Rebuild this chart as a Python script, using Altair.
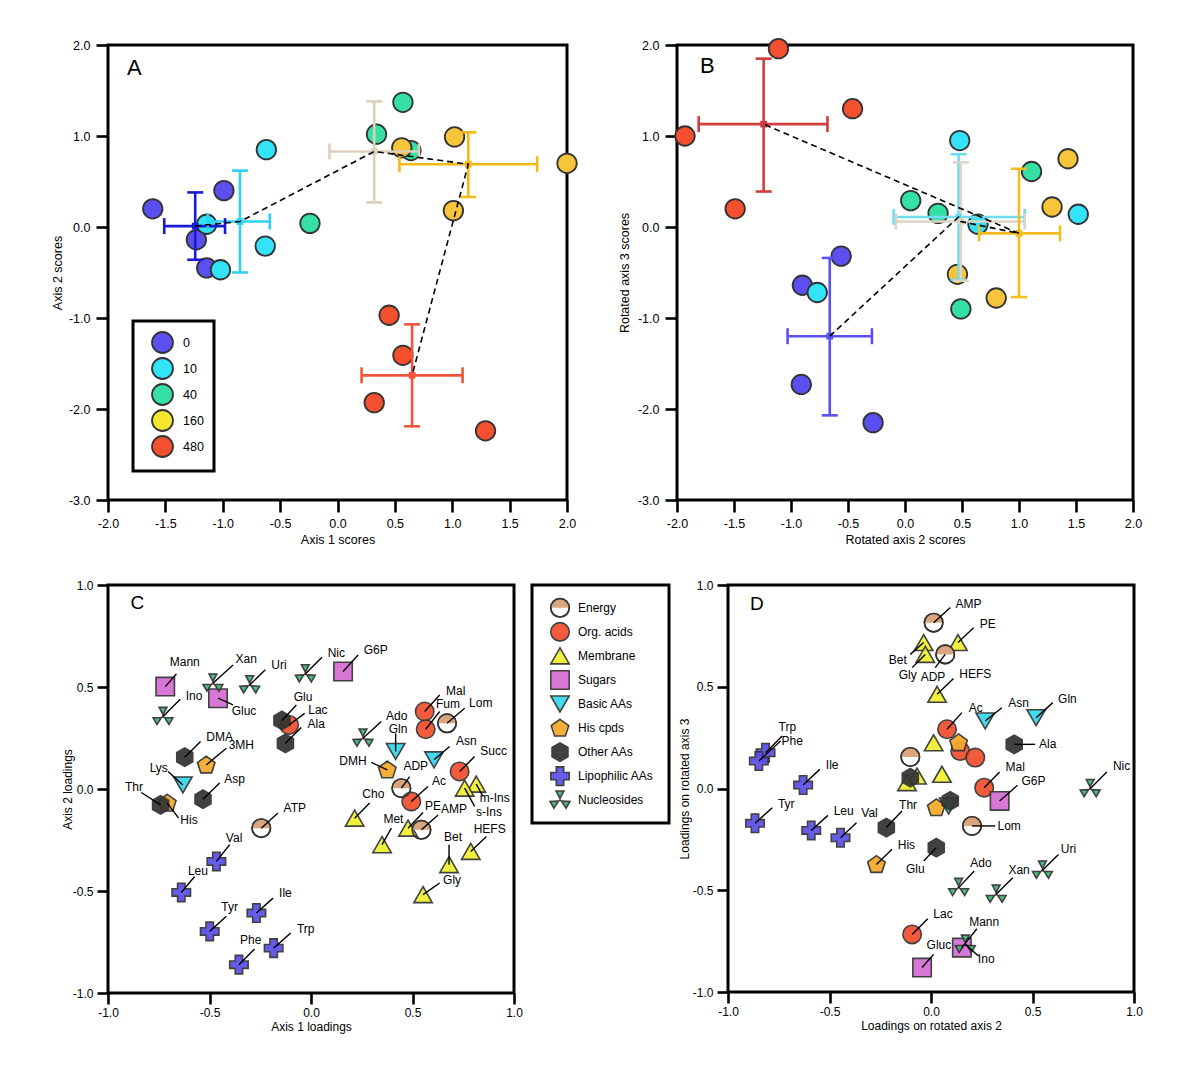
import altair as alt
import pandas as pd

FONT = "Liberation Sans"
INK = "#333333"
LBL = "datum.value < 0 ? '-' + format(-datum.value, '.1f') : format(datum.value, '.1f')"

# ---------------- Score plots (A, B) ----------------
groups = ["0", "10", "40", "160", "480"]
point_group = [g for g in groups for _ in range(4)]

a_score_x = [-1.61, -0.99, -1.23, -1.14, -0.62, -1.14, -0.63, -1.02, 0.57, 0.34, -0.24, 0.64,
             0.56, 1.02, 2.00, 1.01, 0.45, 0.57, 0.32, 1.29]
a_score_y = [0.20, 0.40, -0.14, -0.45, 0.85, 0.03, -0.21, -0.47, 1.37, 1.02, 0.04, 0.84,
             0.87, 0.99, 0.70, 0.18, -0.97, -1.41, -1.93, -2.24]
b_score_x = [-0.56, -0.90, -0.91, -0.28, -0.77, 0.48, 0.64, 1.52, 0.05, 0.29, 1.11, 0.49,
             1.43, 1.29, 0.46, 0.80, -1.11, -1.93, -0.46, -1.49]
b_score_y = [-0.32, -0.64, -1.73, -2.15, -0.72, 0.95, 0.03, 0.14, 0.29, 0.15, 0.61, -0.90,
             0.75, 0.22, -0.52, -0.78, 1.96, 1.00, 1.30, 0.20]

a_mean_x = [-1.24, -0.85, 0.32, 1.14, 0.65]
a_mean_y = [0.01, 0.06, 0.83, 0.69, -1.63]
a_x_lo = [-1.51, -1.13, -0.07, 0.54, 0.21]
a_x_hi = [-0.98, -0.59, 0.71, 1.74, 1.09]
a_y_lo = [-0.36, -0.50, 0.27, 0.33, -2.19]
a_y_hi = [0.38, 0.62, 1.38, 1.04, -1.07]

b_mean_x = [-0.66, 0.47, 0.49, 1.00, -1.24]
b_mean_y = [-1.20, 0.11, 0.06, -0.07, 1.13]
b_x_lo = [-1.03, -0.10, -0.08, 0.65, -1.81]
b_x_hi = [-0.29, 1.05, 1.05, 1.36, -0.68]
b_y_lo = [-2.07, -0.58, -0.59, -0.77, 0.39]
b_y_hi = [-0.34, 0.80, 0.71, 0.64, 1.85]

point_fill = ["#5b4ff0", "#33e3f7", "#35e0a4", "#f7c53a", "#f2502e"]
legend_fill = ["#5b4ff0", "#33e3f7", "#35e0a4", "#f5e62f", "#f2502e"]
a_bar_colors = ["#1a1ad0", "#2fd0f0", "#dcd0bc", "#f5b914", "#f2553a"]
b_bar_colors = ["#5a4ff0", "#6fdcf0", "#dcd4c4", "#f5bc1e", "#d23c3c"]

score_x_ticks = [-2, -1.5, -1, -0.5, 0, 0.5, 1, 1.5, 2]
score_y_ticks = [-3, -2, -1, 0, 1, 2]
load_ticks = [-1, -0.5, 0, 0.5, 1]

# ---------------- Loadings (C, D) ----------------
cats = ["Energy", "Org. acids", "Membrane", "Sugars", "Basic AAs", "His cpds",
        "Other AAs", "Lipophilic AAs", "Nucleosides"]
metabolites = ["ATP", "ADP", "AMP", "Lom", "Lac", "Mal", "Fum", "Succ", "Ac",
               "Cho", "Met", "PE", "m-Ins", "s-Ins", "Bet", "HEFS", "Gly",
               "Mann", "Gluc", "G6P", "Lys", "Gln", "Asn", "3MH", "His", "DMH",
               "Glu", "Ala", "DMA", "Asp", "Thr", "Val", "Leu", "Ile", "Tyr", "Trp", "Phe",
               "Xan", "Uri", "Nic", "Ino", "Ado"]
metabolite_class = (["Energy"] * 4 + ["Org. acids"] * 5 + ["Membrane"] * 8 + ["Sugars"] * 3 +
                    ["Basic AAs"] * 3 + ["His cpds"] * 3 + ["Other AAs"] * 5 +
                    ["Lipophilic AAs"] * 6 + ["Nucleosides"] * 5)

c_x = [-0.245, 0.445, 0.544, 0.670, -0.108, 0.560, 0.565, 0.732, 0.494, 0.215, 0.350, 0.478, 0.814,
       0.757, 0.680, 0.787, 0.552, -0.718, -0.458, 0.158, -0.631, 0.417, 0.606, -0.516, -0.708, 0.376,
       -0.143, -0.126, -0.622, -0.532, -0.741, -0.466, -0.639, -0.269, -0.499, -0.184, -0.355,
       -0.483, -0.302, -0.028, -0.729, 0.256]
c_y = [-0.192, 0.004, -0.200, 0.322, 0.314, 0.380, 0.293, 0.086, -0.061, -0.143, -0.273, -0.192, 0.024,
       0.004, -0.371, -0.306, -0.518, 0.502, 0.445, 0.576, 0.020, 0.184, 0.143, 0.118, -0.069, 0.094,
       0.336, 0.224, 0.156, -0.050, -0.078, -0.355, -0.507, -0.608, -0.698, -0.780, -0.861,
       0.518, 0.510, 0.564, 0.355, 0.249]
c_label_x = [-0.080, 0.516, 0.704, 0.836, 0.034, 0.713, 0.675, 0.900, 0.631, 0.307, 0.406, 0.601, 0.905,
             0.877, 0.700, 0.880, 0.695, -0.622, -0.330, 0.319, -0.750, 0.429, 0.765, -0.343, -0.601,
             0.207, -0.039, 0.026, -0.450, -0.376, -0.872, -0.379, -0.557, -0.126, -0.401, -0.026,
             -0.297, -0.319, -0.158, 0.125, -0.576, 0.422]
c_label_y = [-0.094, 0.113, -0.099, 0.424, 0.388, 0.482, 0.416, 0.184, 0.037, -0.025, -0.148, -0.082,
             -0.046, -0.113, -0.233, -0.197, -0.445, 0.624, 0.383, 0.682, 0.102, 0.295, 0.233, 0.216,
             -0.154, 0.138, 0.451, 0.319, 0.257, 0.048, 0.011, -0.242, -0.401, -0.510, -0.580, -0.685,
             -0.742, 0.636, 0.608, 0.669, 0.458, 0.360]
c_leader_x = [-0.163, 0.486, 0.626, 0.757, -0.031, 0.634, 0.634, 0.806, 0.576, 0.289, 0.396, 0.552,
              0.847, 0.806, 0.680, 0.864, 0.634, -0.663, -0.384, 0.232, -0.704, 0.417, 0.683, -0.417,
              -0.652, 0.297, -0.072, -0.048, -0.544, -0.450, -0.836, -0.401, -0.573, -0.187, -0.417,
              -0.100, -0.278, -0.384, -0.225, 0.054, -0.644, 0.346]
c_leader_y = [-0.118, 0.061, -0.127, 0.396, 0.371, 0.461, 0.380, 0.159, 0.012, -0.069, -0.192, -0.115,
              -0.036, -0.085, -0.273, -0.233, -0.461, 0.564, 0.412, 0.657, 0.086, 0.273, 0.208, 0.200,
              -0.143, 0.130, 0.412, 0.301, 0.233, 0.029, -0.017, -0.273, -0.429, -0.535, -0.624,
              -0.706, -0.784, 0.608, 0.584, 0.646, 0.440, 0.331]

d_x = [-0.102, 0.070, 0.013, 0.202, -0.093, 0.262, 0.144, 0.218, 0.079, 0.013, 0.054, 0.133, -0.069,
       -0.118, -0.036, 0.030, -0.028, 0.152, -0.044, 0.338, 0.087, 0.518, 0.267, 0.026, -0.269, 0.136,
       0.026, 0.410, -0.102, 0.095, -0.220, -0.446, -0.590, -0.630, -0.867, -0.815, -0.848,
       0.321, 0.549, 0.784, 0.169, 0.136]
d_y = [0.155, 0.659, 0.815, -0.184, -0.717, 0.004, 0.184, 0.152, 0.291, 0.225, 0.070, 0.717, 0.061,
       0.029, 0.717, 0.463, 0.659, -0.782, -0.880, -0.061, -0.086, 0.348, 0.332, -0.094, -0.373, 0.225,
       -0.291, 0.217, 0.053, -0.061, -0.192, -0.242, -0.206, 0.017, -0.171, 0.176, 0.135,
       -0.520, -0.402, -0.001, -0.766, -0.487]
N = None
d_label_x = [N, 0.010, 0.185, 0.385, 0.059, 0.415, N, N, 0.221, N, N, 0.279, N, N, -0.164, 0.218, -0.115,
             0.262, 0.039, 0.505, N, 0.672, 0.431, N, -0.121, N, -0.077, 0.575, N, N, -0.113,
             -0.303, -0.430, -0.487, -0.713, -0.708, -0.684, 0.434, 0.677, 0.939, 0.272, 0.246]
d_label_y = [N, 0.548, 0.908, -0.184, -0.618, 0.107, N, N, 0.394, N, N, 0.810, N, N, 0.631, 0.561, 0.556,
             -0.654, -0.769, 0.037, N, 0.441, 0.422, N, -0.279, N, -0.397, 0.217, N, N, -0.081,
             -0.122, -0.111, 0.115, -0.075, 0.302, 0.233, -0.402, -0.299, 0.111, -0.839, -0.368]
d_leader_x = [N, 0.021, 0.095, 0.316, -0.016, 0.338, N, N, 0.152, N, N, 0.210, N, N, -0.102, 0.111, -0.093,
              0.226, 0.013, 0.426, N, 0.600, 0.349, N, -0.192, N, -0.036, 0.513, N, N, -0.143,
              -0.367, -0.508, -0.548, -0.782, -0.733, -0.741, 0.403, 0.628, 0.866, 0.234, 0.213]
d_leader_y = [N, 0.594, 0.889, -0.184, -0.640, 0.081, N, N, 0.373, N, N, 0.790, N, N, 0.659, 0.540, 0.594,
              -0.689, -0.815, 0.016, N, 0.422, 0.397, N, -0.299, N, -0.356, 0.217, N, N, -0.111,
              -0.168, -0.132, 0.094, -0.095, 0.258, 0.233, -0.438, -0.324, 0.081, -0.823, -0.405]

# marker styles per class
PENT = "M0,-0.95L0.951,-0.26L0.588,0.86L-0.588,0.86L-0.951,-0.26Z"
HEX = "M0,-1L0.866,-0.5L0.866,0.5L0,1L-0.866,0.5L-0.866,-0.5Z"
BLADE = ("M0,-0.2L-0.42,-1L0.42,-1Z M-0.17,0.1L-1.076,0.136L-0.656,0.864Z "
         "M0.17,0.1L1.076,0.136L0.656,0.864Z M0,0L0,-0.2M0,0L-0.17,0.1M0,0L0.17,0.1")
HALF = "M-1,0A1,1 0 0 1 1,0Z"
cat_fill = ["#ffffff", "#f2502e", "#eef030", "#d46ed4", "#33d8f0", "#f5a82a", "#333333", "#5b4fe8", "#3cbc74"]
cat_shape = ["circle", "circle", "triangle-up", "square", "triangle-down", PENT, HEX, "cross", BLADE]
cat_size = [340, 340, 470, 300, 400, 535, 363, 506, 460]
cat_stroke_w = [1.6, 1.6, 1.6, 2.6, 1.6, 1.6, 1.2, 2.2, 1.0]
ENERGY_TOP = "#d9a57c"


def make_axis(title, values, fs, tick, lp, tp):
    return alt.Axis(title=title, values=values, labelExpr=LBL, grid=False, domain=False,
                    tickSize=tick, tickWidth=2.6, tickColor="black",
                    labelFont=FONT, labelFontSize=fs, labelColor="black", labelPadding=lp,
                    labelFlush=False, labelOverlap=False,
                    titleFont=FONT, titleFontSize=fs, titleFontWeight="normal",
                    titleColor="black", titlePadding=tp)


def letter_layer(letter, px, py, fs):
    return alt.Chart(pd.DataFrame({"t": [letter]})).mark_text(
        align="left", baseline="alphabetic", font=FONT, fontSize=fs, color="black"
    ).encode(text="t:N", x=alt.value(px), y=alt.value(py))


def score_panel(px, py, mx, my, xlo, xhi, ylo, yhi, bar_colors, xtitle, ytitle,
                letter, lpos, ytp, legend):
    pts = pd.DataFrame({"group": point_group, "x": px, "y": py})
    mean = pd.DataFrame({"group": groups, "step": list(range(len(groups))), "x": mx, "y": my,
                         "xlo": xlo, "xhi": xhi, "ylo": ylo, "yhi": yhi})
    xs = alt.Scale(domain=[-2, 2], nice=False, zero=False)
    ys = alt.Scale(domain=[-3, 2], nice=False, zero=False)
    xax = make_axis(xtitle, score_x_ticks, 12.5, 12, 5, 4)
    yax = make_axis(ytitle, score_y_ticks, 12.5, 12, 6, ytp)

    def X(f):
        return alt.X(f + ":Q", scale=xs, axis=xax)

    def Y(f):
        return alt.Y(f + ":Q", scale=ys, axis=yax)

    bar_col = alt.Color("group:N", sort=groups, scale=alt.Scale(domain=groups, range=bar_colors), legend=None)
    layers = []
    layers.append(alt.Chart(pts).mark_circle(size=380, stroke=INK, strokeWidth=1.8, opacity=1).encode(
        x=X("x"), y=Y("y"),
        fill=alt.Fill("group:N", sort=groups, scale=alt.Scale(domain=groups, range=point_fill), legend=None)))
    if legend:
        layers.append(alt.Chart(pts).mark_circle(size=380, opacity=0, stroke=INK, strokeWidth=1.8).encode(
            x=X("x"), y=Y("y"),
            color=alt.Color("group:N", sort=groups, scale=alt.Scale(domain=groups, range=legend_fill),
                            legend=alt.Legend(title=None, orient="none", legendX=25, legendY=276,
                                              symbolType="circle", symbolSize=440, symbolStrokeColor=INK,
                                              symbolStrokeWidth=1.8, symbolOpacity=1, symbolOffset=8,
                                              labelFont=FONT, labelFontSize=12.5, labelColor="black",
                                              labelOffset=9, rowPadding=-3, padding=10,
                                              strokeColor="black", fillColor="white"))))
    layers.append(alt.Chart(mean).mark_rule(strokeWidth=2.6).encode(
        x=X("xlo"), x2="xhi:Q", y=Y("y"), color=bar_col))
    layers.append(alt.Chart(mean).mark_rule(strokeWidth=2.6).encode(
        x=X("x"), y=Y("ylo"), y2="yhi:Q", color=bar_col))
    for f in ["xlo", "xhi"]:
        layers.append(alt.Chart(mean).mark_tick(orient="vertical", size=16, thickness=2.6, opacity=1).encode(
            x=X(f), y=Y("y"), color=bar_col))
    for f in ["ylo", "yhi"]:
        layers.append(alt.Chart(mean).mark_tick(orient="horizontal", size=16, thickness=2.6, opacity=1).encode(
            x=X("x"), y=Y(f), color=bar_col))
    layers.append(alt.Chart(mean).mark_square(size=45, opacity=1).encode(x=X("x"), y=Y("y"), color=bar_col))
    layers.append(alt.Chart(mean).mark_line(color="black", strokeDash=[6, 4], strokeWidth=1.6).encode(
        x=X("x"), y=Y("y"), order="step:Q"))
    layers.append(letter_layer(letter, lpos[0], lpos[1], 22))
    return alt.layer(*layers).resolve_scale(color="independent", fill="independent")


def class_encodings():
    return dict(
        fill=alt.Fill("cls:N", scale=alt.Scale(domain=cats, range=cat_fill), legend=None),
        shape=alt.Shape("cls:N", scale=alt.Scale(domain=cats, range=cat_shape), legend=None),
        size=alt.Size("cls:N", scale=alt.Scale(domain=cats, range=cat_size), legend=None),
        strokeWidth=alt.StrokeWidth("cls:N", scale=alt.Scale(domain=cats, range=cat_stroke_w), legend=None),
    )


def marker_layers(data, xenc, yenc):
    base = alt.Chart(data)
    marks = base.mark_point(filled=True, stroke=INK, opacity=0.93).encode(x=xenc, y=yenc, **class_encodings())
    half = base.transform_filter("datum.cls == 'Energy'").mark_point(
        filled=True, shape=HALF, size=cat_size[0], fill=ENERGY_TOP, strokeWidth=0, opacity=1
    ).encode(x=xenc, y=yenc)
    ring = base.transform_filter("datum.cls == 'Energy'").mark_point(
        filled=False, shape="circle", size=cat_size[0], stroke=INK, strokeWidth=cat_stroke_w[0], opacity=1
    ).encode(x=xenc, y=yenc)
    return [marks, half, ring]


def loading_panel(px, py, tx, ty, ex, ey, xtitle, ytitle, letter, lpos, ytp):
    df = pd.DataFrame({"name": metabolites, "cls": metabolite_class, "x": px, "y": py,
                       "tx": tx, "ty": ty, "ex": ex, "ey": ey})
    sc = alt.Scale(domain=[-1, 1], nice=False, zero=False)
    xax = make_axis(xtitle, load_ticks, 12, 11, 3, 3)
    yax = make_axis(ytitle, load_ticks, 12, 11, 4, ytp)

    def X(f):
        return alt.X(f + ":Q", scale=sc, axis=xax)

    def Y(f):
        return alt.Y(f + ":Q", scale=sc, axis=yax)

    layers = marker_layers(df, X("x"), Y("y"))
    lab = alt.Chart(df).transform_filter("isValid(datum.tx)")
    layers.append(lab.mark_rule(color="black", strokeWidth=1.4).encode(
        x=X("x"), y=Y("y"), x2="ex:Q", y2="ey:Q"))
    layers.append(lab.mark_text(font=FONT, fontSize=12, color="black", align="center", baseline="middle").encode(
        x=X("tx"), y=Y("ty"), text="name:N"))
    layers.append(letter_layer(letter, lpos[0], lpos[1], 19))
    return alt.layer(*layers)


panel_a = score_panel(a_score_x, a_score_y, a_mean_x, a_mean_y, a_x_lo, a_x_hi, a_y_lo, a_y_hi,
                      a_bar_colors, "Axis 1 scores", "Axis 2 scores", "A", (19, 30), 3.5, True
                      ).properties(width=459, height=455)
panel_b = score_panel(b_score_x, b_score_y, b_mean_x, b_mean_y, b_x_lo, b_x_hi, b_y_lo, b_y_hi,
                      b_bar_colors, "Rotated axis 2 scores", "Rotated axis 3 scores", "B", (23, 28), 5.5, False
                      ).properties(width=456, height=455)
panel_c = loading_panel(c_x, c_y, c_label_x, c_label_y, c_leader_x, c_leader_y,
                        "Axis 1 loadings", "Axis 2 loadings", "C", (22.6, 24.3), -2
                        ).properties(width=406, height=408)
panel_d = loading_panel(d_x, d_y, d_label_x, d_label_y, d_leader_x, d_leader_y,
                        "Loadings on rotated axis 2", "Loadings on rotated axis 3", "D", (22, 25), 0.5
                        ).properties(width=406, height=407)

# class legend box between C and D
leg_df = pd.DataFrame({"cls": cats})
leg_y = alt.Y("cls:N", sort=cats, scale=alt.Scale(type="point", padding=0.95), axis=None)
leg_layers = marker_layers(leg_df, alt.value(28), leg_y)
leg_layers.append(alt.Chart(leg_df).mark_text(font=FONT, fontSize=12, color="black", align="left",
                                               baseline="middle").encode(x=alt.value(46), y=leg_y, text="cls:N"))
legend_c = alt.layer(*leg_layers).properties(width=137, height=238)

row1 = alt.hconcat(panel_a, panel_b, spacing=35)
row2 = alt.hconcat(panel_c, legend_c, panel_d, spacing=6)
chart = alt.vconcat(row1, row2, spacing=29).properties(
    padding={"left": 42, "top": 25, "right": 5, "bottom": 5}
).configure_view(stroke="black", strokeWidth=3).configure_legend(strokeWidth=3)

chart.save("out.html", embed_options={"renderer": "svg", "actions": False})
